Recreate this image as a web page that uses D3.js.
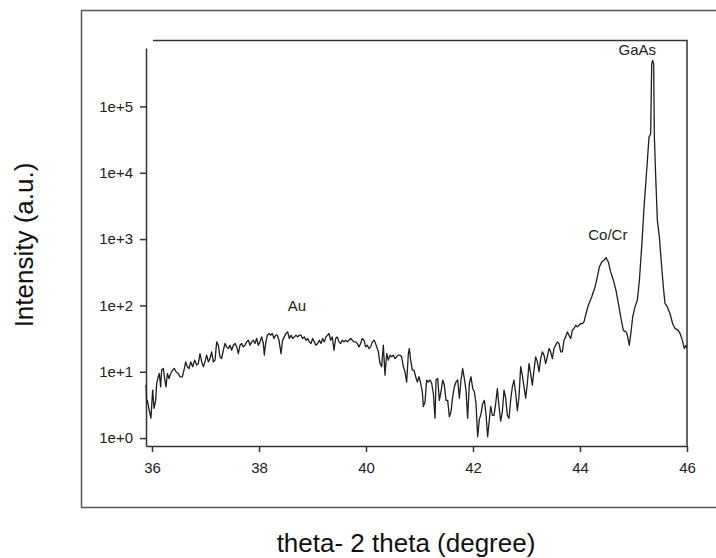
<!DOCTYPE html>
<html>
<head>
<meta charset="utf-8">
<script src="https://cdn.jsdelivr.net/npm/d3@7"></script>
<style>
  body { margin: 0; background: #fff; }
  svg { display: block; font-family: Arial, "Liberation Sans", sans-serif; }
</style>
</head>
<body>
<svg id="chart" width="716" height="558"></svg>
<script>
// theta-2theta scan
var theta = [
  35.89, 35.90, 35.913, 35.95, 35.98, 36.013, 36.038, 36.069, 36.087, 36.118,
  36.137, 36.162, 36.181, 36.212, 36.231, 36.262, 36.287, 36.318, 36.349, 36.386,
  36.418, 36.449, 36.492, 36.524, 36.567, 36.598, 36.63, 36.66, 36.692, 36.723,
  36.76, 36.798, 36.835, 36.866, 36.897, 36.929, 36.96, 36.99, 37.022, 37.053,
  37.084, 37.115, 37.147, 37.178, 37.209, 37.24, 37.271, 37.302, 37.333, 37.365,
  37.396, 37.427, 37.458, 37.489, 37.52, 37.552, 37.583, 37.614, 37.645, 37.676,
  37.707, 37.738, 37.77, 37.801, 37.832, 37.863, 37.894, 37.925, 37.956, 37.988,
  38.018, 38.05, 38.081, 38.1, 38.124, 38.156, 38.187, 38.218, 38.249, 38.28,
  38.311, 38.342, 38.374, 38.411, 38.442, 38.473, 38.504, 38.536, 38.567, 38.598,
  38.629, 38.66, 38.691, 38.723, 38.754, 38.785, 38.816, 38.847, 38.878, 38.909,
  38.941, 38.972, 39.003, 39.034, 39.065, 39.096, 39.128, 39.159, 39.19, 39.221,
  39.252, 39.283, 39.308, 39.339, 39.37, 39.402, 39.433, 39.464, 39.495, 39.526,
  39.557, 39.588, 39.62, 39.651, 39.682, 39.713, 39.744, 39.775, 39.807, 39.838,
  39.869, 39.9, 39.931, 39.962, 39.994, 40.025, 40.056, 40.087, 40.118, 40.149,
  40.168, 40.2, 40.231, 40.262, 40.293, 40.324, 40.355, 40.387, 40.418, 40.449,
  40.48, 40.511, 40.542, 40.573, 40.605, 40.636, 40.667, 40.698, 40.729, 40.76,
  40.792, 40.81, 40.835, 40.866, 40.897, 40.929, 40.96, 40.991, 41.022, 41.053,
  41.072, 41.103, 41.134, 41.165, 41.197, 41.228, 41.259, 41.29, 41.309, 41.34,
  41.371, 41.402, 41.433, 41.464, 41.496, 41.527, 41.558, 41.589, 41.62, 41.651,
  41.682, 41.714, 41.745, 41.776, 41.807, 41.838, 41.869, 41.9, 41.932, 41.963,
  41.994, 42.025, 42.056, 42.087, 42.118, 42.149, 42.18, 42.212, 42.243, 42.274,
  42.305, 42.33, 42.362, 42.393, 42.424, 42.455, 42.486, 42.517, 42.548, 42.58,
  42.611, 42.642, 42.673, 42.704, 42.735, 42.766, 42.798, 42.829, 42.86, 42.891,
  42.922, 42.953, 42.985, 43.016, 43.047, 43.078, 43.109, 43.14, 43.171, 43.203,
  43.234, 43.265, 43.296, 43.327, 43.358, 43.389, 43.421, 43.452, 43.483, 43.514,
  43.545, 43.576, 43.607, 43.639, 43.67, 43.701, 43.732, 43.763, 43.794, 43.826,
  43.857, 43.888, 43.919, 43.95, 43.981, 44.013, 44.044, 44.075, 44.112, 44.156,
  44.218, 44.281, 44.324, 44.362, 44.405, 44.449, 44.486, 44.53, 44.573, 44.623,
  44.673, 44.717, 44.761, 44.81, 44.86, 44.885, 44.922, 44.954, 44.985, 45.028,
  45.072, 45.11, 45.153, 45.197, 45.247, 45.29, 45.321, 45.34, 45.358, 45.377,
  45.39, 45.415, 45.446, 45.483, 45.527, 45.558, 45.589, 45.633, 45.683, 45.732,
  45.776, 45.838, 45.87, 45.913, 45.95, 45.981, 46.0
];
var intensity = [
  6.3, 3.3, 3.7, 2.6, 2.0, 5.3, 2.8, 3.7, 6.7, 8.4,
  9.4, 5.9, 10.6, 11.2, 8.4, 5.9, 9.4, 7.9, 9.4, 10.6,
  11.2, 10, 9.4, 8.4, 8.4, 10.6, 14.1, 11.9, 11.2, 14.1,
  11.9, 15, 12.6, 13.3, 18.8, 14.1, 11.9, 14.1, 17.8, 14.1,
  15.8, 20, 14.1, 15, 28.2, 25.1, 16.8, 15.8, 21.1, 26.7,
  23.7, 22.4, 25.1, 21.1, 25.1, 26.7, 23.7, 18.8, 25.1, 26.7,
  23.7, 25.1, 28.2, 29.9, 25.1, 28.2, 29.9, 26.7, 31.7, 25.1,
  28.2, 33.6, 26.7, 17.8, 26.7, 35.6, 37.7, 35.6, 37.7, 31.7,
  35.6, 35.6, 29.9, 18.8, 29.9, 33.6, 37.7, 39.9, 31.7, 35.6,
  31.7, 33.6, 35.6, 33.6, 35.6, 35.6, 31.7, 33.6, 29.9, 31.7,
  28.2, 26.7, 31.7, 28.2, 25.1, 26.7, 29.9, 26.7, 31.7, 28.2,
  33.6, 35.6, 37.7, 29.9, 33.6, 21.1, 31.7, 33.6, 28.2, 26.7,
  29.9, 28.2, 29.9, 28.2, 29.9, 31.7, 29.9, 28.2, 28.2, 26.7,
  23.7, 26.7, 31.7, 29.9, 23.7, 25.1, 22.4, 23.7, 28.2, 29.9,
  28.2, 23.7, 20, 13.3, 11.9, 25.1, 8.9, 18.8, 15, 17.8,
  16.8, 17.8, 15.8, 16.8, 17.8, 17.8, 16.8, 11.9, 10, 7,
  18.8, 22.4, 15, 10.6, 10.6, 8.4, 7, 8.4, 6.7, 5,
  3, 3.5, 7.5, 7, 7.5, 6.7, 4.7, 2, 7.5, 7.9,
  3.7, 5, 7.5, 6.3, 3.7, 3.7, 2.1, 2.5, 4.2, 5.9,
  7, 7.5, 4, 7.5, 11.2, 7.9, 5.3, 2, 6.7, 8.4,
  5.6, 5, 3.3, 1.05, 1.9, 2.3, 3.3, 3.7, 2.3, 1.05,
  1.9, 3, 2.2, 2.2, 3.3, 5.6, 3, 1.8, 2.5, 5.3,
  4, 2.2, 2, 3.7, 5.9, 7.5, 4.7, 2.6, 4.2, 11.9,
  8.9, 5.9, 4, 6.7, 13.3, 9.4, 6.3, 10.6, 16.8, 14.1,
  10, 15.8, 20, 17.8, 13.3, 16.8, 22.4, 20, 15.8, 22.4,
  25.1, 28.2, 26.7, 20, 20, 29.9, 33.6, 39.9, 35.6, 31.7,
  42.3, 44.8, 50.3, 47.5, 50.3, 53.3, 53.3, 56.5, 75, 101,
  134, 190, 269, 380, 452, 479, 526, 452, 320, 240,
  169, 107, 67, 42, 40, 35.6, 25.1, 40, 67, 95,
  120, 240, 760, 3050, 10900, 34500, 38700, 438000, 493000, 438000,
  34500, 8630, 1920, 1080, 380, 190, 107, 95, 75, 53,
  45, 42, 37.7, 30, 22.4, 25.1, 23
];

var xTicks = [36, 38, 40, 42, 44, 46];
var yTicks = [1, 10, 100, 1000, 10000, 100000];
var yTickLabels = ["1e+0", "1e+1", "1e+2", "1e+3", "1e+4", "1e+5"];

var peakNames = ["Au", "Co/Cr", "GaAs"];
var peakTheta = [38.71, 44.52, 45.07];
var peakIntensity = [82, 970, 600000];

var svg = d3.select("#chart");

// outer frame (open on the right, runs off the picture)
svg.append("path")
  .attr("d", "M717,10.5 H81.5 V507.5 H717")
  .attr("fill", "none")
  .attr("stroke", "#555")
  .attr("stroke-width", 1.5);

var x = d3.scaleLinear().domain([35.888, 46]).range([146, 687]);
var y = d3.scaleLog().domain([0.76, 7.6e5]).range([446, 48]);

var ink = "#333";

// top and right frame of the plot area
svg.append("path")
  .attr("d", "M" + (x(36) + 1) + ",40.5 H" + x(46) + " V" + y(0.76))
  .attr("fill", "none")
  .attr("stroke", ink)
  .attr("stroke-width", 1.5);

var yAxis = svg.append("g")
  .attr("transform", "translate(" + x.range()[0] + ",0)")
  .call(d3.axisLeft(y).tickValues(yTicks)
    .tickFormat(function (d, i) { return yTickLabels[i]; })
    .tickSize(6).tickSizeOuter(0).tickPadding(7));

var xAxis = svg.append("g")
  .attr("transform", "translate(0," + y.range()[0] + ")")
  .call(d3.axisBottom(x).tickValues(xTicks)
    .tickFormat(d3.format("d"))
    .tickSize(6).tickSizeOuter(0).tickPadding(10));

[xAxis, yAxis].forEach(function (g) {
  g.selectAll("path, line").attr("stroke", ink).attr("stroke-width", 1.5);
  g.selectAll("text")
    .attr("fill", "#222")
    .style("font-size", "15px")
    .style("font-family", "Arial, 'Liberation Sans', sans-serif");
});

var points = theta.map(function (t, i) { return [t, intensity[i]]; });

var line = d3.line()
  .x(function (d) { return x(d[0]); })
  .y(function (d) { return y(d[1]); });

svg.append("path")
  .datum(points)
  .attr("d", line)
  .attr("fill", "none")
  .attr("stroke", "#1e1e1e")
  .attr("stroke-width", 1.3)
  .attr("stroke-linejoin", "round");

// peak labels
svg.selectAll(".peak")
  .data(peakNames)
  .enter().append("text")
  .attr("class", "peak")
  .attr("x", function (d, i) { return x(peakTheta[i]); })
  .attr("y", function (d, i) { return y(peakIntensity[i]); })
  .attr("text-anchor", "middle")
  .attr("fill", "#222")
  .style("font-size", "15px")
  .text(function (d) { return d; });

// axis titles
svg.append("text")
  .attr("transform", "translate(33,245) rotate(-90)")
  .attr("text-anchor", "middle")
  .attr("fill", "#111")
  .style("font-size", "26px")
  .text("Intensity (a.u.)");

svg.append("text")
  .attr("x", 406)
  .attr("y", 552)
  .attr("text-anchor", "middle")
  .attr("fill", "#111")
  .style("font-size", "26px")
  .text("theta- 2 theta (degree)");
</script>
</body>
</html>
